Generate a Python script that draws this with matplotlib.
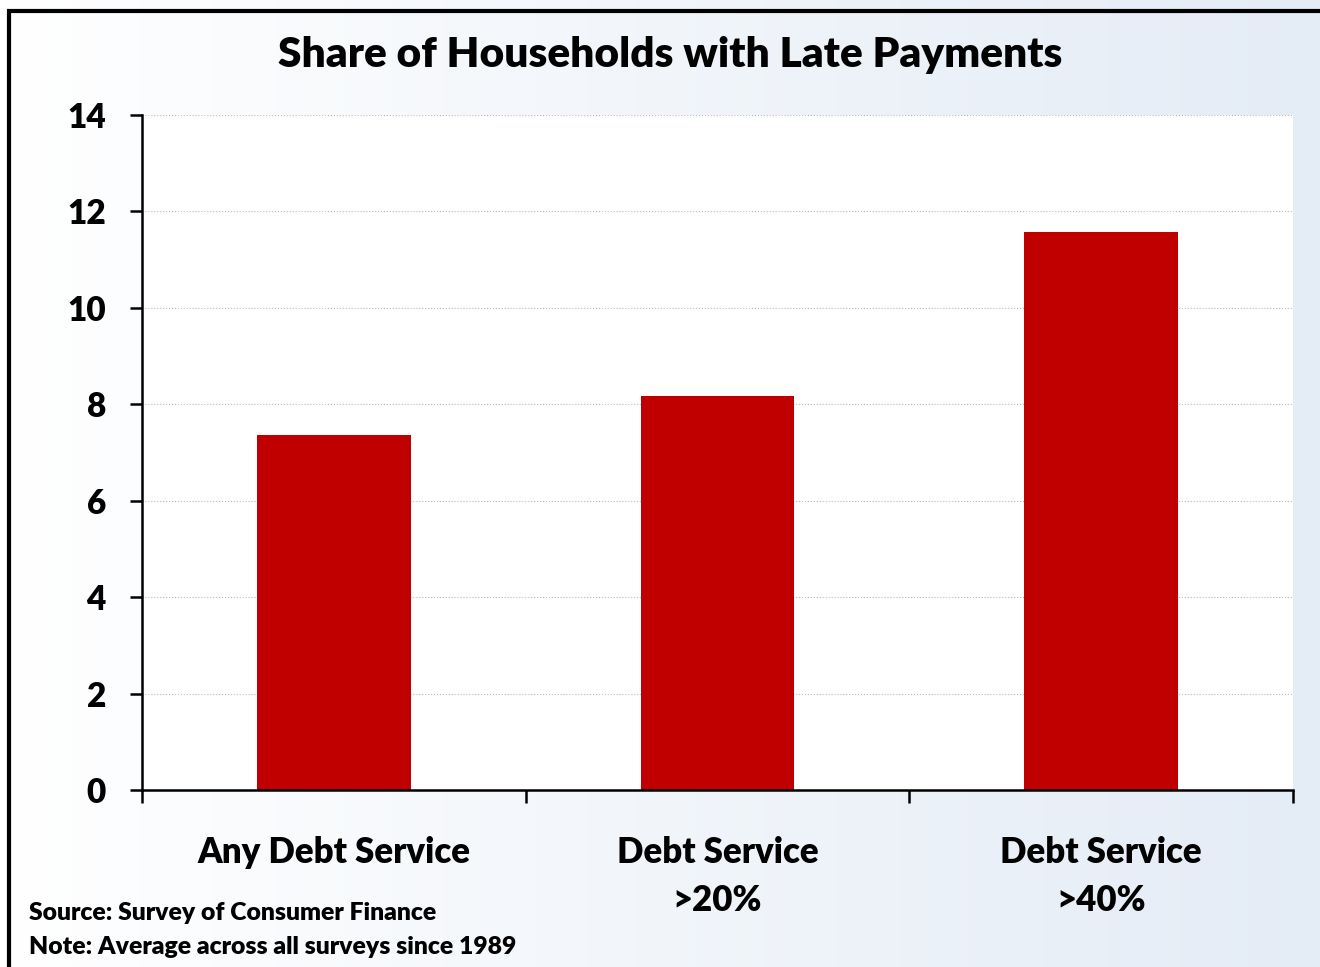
import matplotlib.pyplot as plt
import numpy as np
from matplotlib.colors import LinearSegmentedColormap

categories = ['Any Debt Service', 'Debt Service\n>20%', 'Debt Service\n>40%']
values = [7.36, 8.17, 11.57]
yticks = [0, 2, 4, 6, 8, 10, 12, 14]

plt.rcParams['font.family'] = ['Lato', 'DejaVu Sans']
WT = 'heavy'

W, H = 1320, 967
fig = plt.figure(figsize=(W / 100, H / 100), dpi=100)

# background gradient
bg = fig.add_axes([0, 0, 1, 1], zorder=0)
cmap = LinearSegmentedColormap.from_list('bg', ['#ffffff', '#e4ecf6'])
bg.imshow(np.linspace(0, 1, 256).reshape(1, -1), aspect='auto', cmap=cmap,
          extent=[0, 1, 0, 1])
bg.set_xlim(0, 1)
bg.set_ylim(0, 1)
bg.axis('off')
# border (top and left)
bg.plot([9 / W, 9 / W, 1], [0, 1 - 11 / H, 1 - 11 / H], color='black', lw=3,
        solid_joinstyle='miter')

ax = fig.add_axes([142 / W, 1 - 790 / H, (1293 - 142) / W, (790 - 115) / H], zorder=1)
ax.set_facecolor('white')
x = np.arange(len(categories))
ax.bar(x, values, width=0.40, color='#c00000', zorder=3)
ax.set_xlim(-0.5, len(categories) - 0.5)
ax.set_ylim(0, 14)
ax.set_yticks(yticks)
ax.set_yticklabels([str(t) for t in yticks], fontsize=24, fontweight=WT)
ax.yaxis.grid(True, linestyle=':', color='#bbbbbb', lw=0.8, zorder=0)
ax.tick_params(axis='y', direction='out', length=9, width=1.8, pad=17)

ax.set_xticks([-0.5, 0.5, 1.5, 2.5])
ax.set_xticklabels([])
ax.tick_params(axis='x', direction='out', length=9, width=1.8)
for xi, lab in zip(x, categories):
    ax.text(xi, -0.95, lab, ha='center', va='top', fontsize=25,
            fontweight=WT, linespacing=1.55)

for s in ['top', 'right']:
    ax.spines[s].set_visible(False)
for s in ['left', 'bottom']:
    ax.spines[s].set_linewidth(1.8)
    ax.spines[s].set_zorder(4)

fig.text(670 / W, 1 - 55 / H, 'Share of Households with Late Payments',
         ha='center', va='center', fontsize=30.5, fontweight=WT)
fig.text(29 / W, 1 - 913 / H, 'Source: Survey of Consumer Finance',
         ha='left', va='center', fontsize=17.8, fontweight=WT)
fig.text(29 / W, 1 - 947 / H, 'Note: Average across all surveys since 1989',
         ha='left', va='center', fontsize=17.8, fontweight=WT)

fig.savefig('out.png', dpi=100)
